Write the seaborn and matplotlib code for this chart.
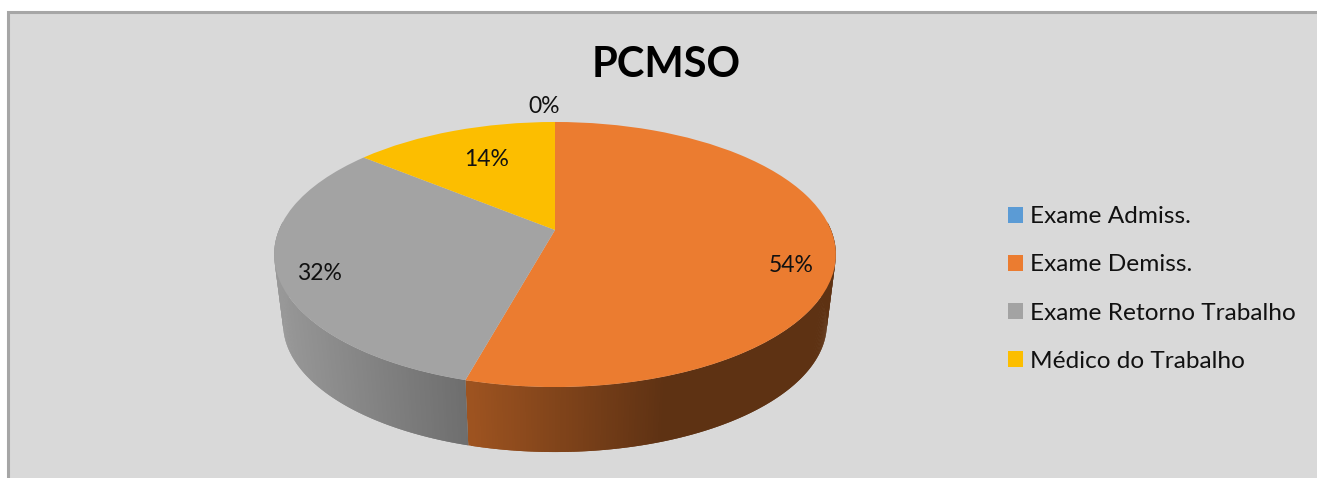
import numpy as np
import matplotlib
matplotlib.use("Agg")
import matplotlib.pyplot as plt
from matplotlib.patches import Rectangle
from matplotlib.transforms import Transform
import seaborn as sns

categories = ["Exame Admiss.", "Exame Demiss.", "Exame Retorno Trabalho", "Médico do Trabalho"]
values = [0.0, 54.3, 31.6, 14.1]
title = "PCMSO"
colors = sns.color_palette(["#5B9BD5", "#EB7C30", "#A3A3A3", "#FCBE00"])
label_xy = [(544, 106), (791, 265), (319, 274), (487, 159)]

sns.set_style("white")
plt.rcParams["font.family"] = ["Lato", "DejaVu Sans"]

W, H = 1317, 478
fig = plt.figure(figsize=(W / 100, H / 100), dpi=100, facecolor="white")
ax = fig.add_axes([0, 0, 1, 1])

# perspective of the tilted disc
CX, CY, A, B, K = 555.0, 230.0, 276.0, 128.0, 0.185
DEPTH, SHRINK = 70.0, 0.968


def project(c, s, low=False):
    d = 1 + K * s
    f = SHRINK if low else 1.0
    x = CX + f * A * c / d
    y = CY + (DEPTH if low else 0.0) - f * B * s / d
    return x, y


class Tilt(Transform):
    input_dims = 2
    output_dims = 2
    is_separable = False
    has_inverse = False

    def transform_non_affine(self, values):
        v = np.asarray(values, dtype=float)
        x, y = project(v[:, 0], v[:, 1])
        return np.column_stack([x, y])


wedges, _, autotexts = ax.pie(values, colors=colors, startangle=90, counterclock=False,
                              radius=1, center=(0, 0), frame=False, autopct="%.0f%%",
                              wedgeprops={"linewidth": 0})
ax.set_aspect("auto")
ax.set_xlim(0, W)
ax.set_ylim(H, 0)
ax.axis("off")

ax.add_patch(Rectangle((8, 12), W + 40, H + 40, facecolor="#D9D9D9", edgecolor="#A6A6A6",
                       linewidth=2.2, zorder=0))

tilt = Tilt() + ax.transData
for w in wedges:
    w.set_transform(tilt)
    w.set_zorder(3)
    w.set_clip_on(False)

# side wall, shaded across its width; each strip overlaps the next to hide seams
for w, col in zip(wedges, colors):
    if w.theta2 - w.theta1 <= 0:
        continue
    steps = np.arange(w.theta1, w.theta2, 0.5)
    for a in steps[::-1]:
        a0, a1 = np.radians(a), np.radians(min(a + 1.0, w.theta2))
        if np.sin(a0) > 0.05 and np.sin(a1) > 0.05:
            continue
        ang = np.linspace(a0, a1, 3)
        xt, yt = project(np.cos(ang), np.sin(ang))
        xb, yb = project(np.cos(ang), np.sin(ang), low=True)
        shade = np.clip(0.67 - 0.00137 * (xt.mean() - 468), 0.40, 0.95)
        fc = tuple(np.array(col) * shade)
        ax.fill(np.r_[xt, xb[::-1]], np.r_[yt, yb[::-1]],
                facecolor=fc, edgecolor="none", linewidth=0, zorder=2)

for t, (x, y) in zip(autotexts, label_xy):
    t.set_position((x, y))
    t.set_ha("center")
    t.set_va("center")
    t.set_fontsize(16.5)
    t.set_color("#111111")
    t.set_zorder(5)

ax.text(666, 65, title, ha="center", va="center", fontsize=30, fontweight="bold",
        color="black", zorder=5)

leg = ax.legend(wedges, categories, loc="center left", bbox_to_anchor=(1008, 289),
                bbox_transform=ax.transData, frameon=False, fontsize=17.6,
                handlelength=0.614, handleheight=0.614, handletextpad=0.29,
                labelspacing=1.105, borderpad=0, borderaxespad=0, labelcolor="#111111")
leg.set_zorder(5)

fig.savefig("out.png", dpi=100, facecolor="white")
